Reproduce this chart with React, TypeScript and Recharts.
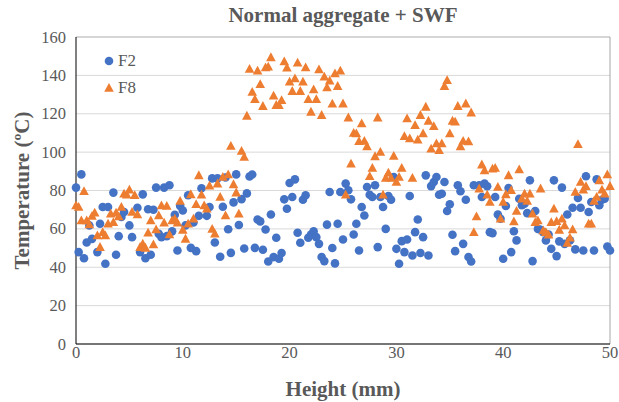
import { ScatterChart, Scatter, XAxis, YAxis, CartesianGrid, ReferenceLine } from 'recharts';

// F2 readings: height (mm) / temperature (ºC)
const f2Height = [
  0, 0.25, 0.5, 0.75, 1, 1.25, 1.5, 2, 2.25, 2.5, 2.75, 3, 3.5, 3.75, 4, 4.25, 4.5, 5, 5.25, 5.75,
  6, 6.25, 6.5, 6.75, 7, 7.25, 7.5, 7.75, 8, 8.25, 8.5, 8.75, 9, 9.25, 9.5, 9.75, 10, 10.25, 10.5, 10.75,
  11, 11.25, 11.5, 11.75, 12.25, 12.5, 12.75, 13, 13.25, 13.5, 13.75, 14, 14.25, 14.5, 14.75, 15, 15.25, 15.5, 15.75, 16,
  16.25, 16.5, 16.75, 17, 17.25, 17.5, 17.75, 18, 18.25, 18.5, 18.75, 19, 19.25, 19.5, 19.75, 20, 20.25, 20.5, 20.75, 21,
  21.25, 21.5, 21.75, 22, 22.25, 22.5, 22.75, 23, 23.25, 23.5, 23.75, 24, 24.25, 24.5, 24.75, 25, 25.25, 25.5, 25.75, 26,
  26.25, 26.5, 26.75, 27, 27.25, 27.5, 27.75, 28, 28.25, 28.5, 28.75, 29, 29.25, 29.5, 29.75, 30, 30.25, 30.5, 30.75, 31,
  31.25, 31.5, 31.75, 32, 32.25, 32.5, 32.75, 33, 33.25, 33.5, 33.75, 34, 34.25, 34.5, 34.75, 35, 35.25, 35.5, 35.75, 36,
  36.25, 36.5, 36.75, 37, 37.25, 37.75, 38, 38.25, 38.5, 38.75, 39, 39.25, 39.5, 39.75, 40, 40.25, 40.5, 40.75, 41, 41.25,
  41.5, 41.75, 42, 42.25, 42.5, 42.75, 43, 43.25, 43.5, 43.75, 44, 44.25, 44.5, 44.75, 45, 45.25, 45.5, 45.75, 46, 46.25,
  46.5, 46.75, 47, 47.25, 47.5, 47.75, 48, 48.25, 48.5, 48.75, 49, 49.25, 49.5, 49.75, 50,
];
const f2Temp = [
  81.5, 47.9, 88.4, 44.7, 52.9, 61.8, 54.8, 47.9, 62.7, 71.4, 41.8, 71.4, 78.9, 46.5, 56.2, 66.2, 68.8, 61.8, 55.7, 71,
  47.9, 78, 44.7, 70.2, 46.5, 70, 81.5, 57.4, 55.7, 81.5, 56.2, 82.7, 58.7, 67.4, 48.7, 72, 69.6, 61.8, 77.5, 50.1,
  63.3, 48.4, 66.8, 81.2, 66.8, 71.4, 86.3, 52.9, 86.3, 45.5, 71.5, 86.8, 59.8, 47.5, 73.8, 88.4, 62, 75.5, 49.8, 78.5,
  87.3, 88.3, 50.1, 64.9, 63.9, 49.1, 59.7, 43, 67.5, 45.3, 55.4, 44.4, 47.4, 75.4, 70.5, 83.9, 76.6, 85.8, 58, 52.8,
  75.2, 77.5, 55.4, 57, 58.7, 55.7, 52.2, 45.3, 43.2, 62.2, 79.2, 50, 42, 62.7, 79.2, 54.5, 83.6, 80.1, 75.4, 57.1,
  62.7, 48.7, 71.4, 67, 81.8, 77.8, 76.6, 82.7, 50.5, 76.6, 71.4, 60, 77.1, 75.2, 87, 49.6, 41.8, 53.6, 47.9, 54.5,
  77.1, 46.1, 58.3, 64.9, 47.4, 55.7, 87.9, 46.1, 82.3, 84.4, 87, 77.8, 78.3, 84.4, 69.3, 72.8, 56.9, 48.4, 82.7, 79.6,
  52.2, 75.2, 45.3, 43, 82.7, 82.7, 76.6, 83.6, 82.2, 58.3, 57.8, 76.6, 67.5, 65.3, 44.4, 71.9, 81.3, 47.9, 58.8, 54,
  75.7, 72.3, 73.1, 68.2, 85.3, 43.2, 69.3, 60, 59.5, 58.3, 54, 57.1, 49.6, 85.3, 45.8, 53.5, 81.5, 52.2, 67.5, 54,
  71, 49.3, 76.1, 71, 48.7, 87.4, 68.8, 74, 48.7, 85.8, 72.3, 75.2, 75.7, 50.8, 48.7,
];

// F8 readings: height (mm) / temperature (ºC)
const f8Height = [
  0, 0.25, 0.5, 0.75, 1, 1.25, 1.5, 1.75, 2, 2.25, 2.5, 2.75, 3, 3.25, 3.5, 3.75, 4, 4.25, 4.5, 4.75,
  5, 5.25, 5.5, 5.75, 6, 6.25, 6.5, 6.75, 7, 7.25, 7.5, 7.75, 8, 8.25, 8.5, 8.75, 9, 9.25, 9.5, 9.75,
  10, 10.25, 10.5, 10.75, 11, 11.25, 11.5, 11.75, 12, 12.25, 12.5, 12.75, 13, 13.25, 13.5, 13.75, 14, 14.25, 14.5, 14.75,
  15, 15.25, 15.5, 15.75, 16, 16.25, 16.5, 16.75, 17, 17.25, 17.5, 17.75, 18, 18.25, 18.5, 18.75, 19, 19.25, 19.5, 19.75,
  20, 20.25, 20.5, 20.75, 21, 21.25, 21.5, 21.75, 22, 22.25, 22.5, 22.75, 23, 23.25, 23.5, 23.75, 24, 24.25, 24.5, 24.75,
  25, 25.25, 25.5, 25.75, 26, 26.25, 26.5, 26.75, 27, 27.25, 27.5, 27.75, 28, 28.25, 28.5, 28.75, 29, 29.25, 29.5, 29.75,
  30, 30.25, 30.5, 30.75, 31, 31.25, 31.5, 31.75, 32, 32.25, 32.5, 32.75, 33, 33.25, 33.5, 33.75, 34, 34.25, 34.5, 34.75,
  35, 35.25, 35.5, 35.75, 36, 36.25, 36.5, 36.75, 37, 37.25, 37.5, 37.75, 38, 38.25, 38.5, 38.75, 39, 39.25, 39.5, 39.75,
  40, 40.25, 40.5, 40.75, 41, 41.25, 41.5, 41.75, 42, 42.25, 42.5, 42.75, 43, 43.25, 43.5, 43.75, 44, 44.25, 44.5, 44.75,
  45, 45.25, 45.5, 45.75, 46, 46.25, 46.5, 46.75, 47, 47.25, 47.5, 47.75, 48, 48.25, 48.5, 48.75, 49, 49.25, 49.5, 49.75,
  50,
];
const f8Temp = [
  72.2, 71.4, 64.4, 79.6, 64.4, 62.3, 66.7, 68.4, 56.6, 50.5, 58.3, 56.6, 62.7, 67.9, 63.5, 68.4, 66.5, 71.4, 78.3, 77.8,
  80.4, 68.8, 77.5, 67.5, 50.5, 52.2, 50.1, 58, 64.4, 51.9, 59.7, 67, 72.2, 63.2, 71.9, 57.1, 64.4, 65.3, 63.2, 74.5,
  59.5, 54.8, 62.7, 78, 65.3, 72.8, 87.9, 77.8, 72.2, 70.5, 82.5, 60, 57.5, 83.6, 76.6, 87, 67, 88.4, 103.2, 83.2,
  78.9, 67.9, 100.6, 97.5, 118.9, 143.3, 131.4, 127.6, 142.4, 135.4, 124, 144.1, 144.5, 149.4, 129.4, 124.5, 124.5, 127.1, 147.2, 144,
  136.7, 131.8, 138.4, 146.6, 131.8, 136.7, 144.1, 127.6, 121, 132.7, 127.6, 143.1, 119.3, 139.3, 133.7, 137.2, 125.2, 141, 134.4, 142.4,
  125.3, 77.8, 118, 94, 110, 109.7, 105.7, 114.9, 105.8, 103, 87.4, 91.7, 97.8, 118, 100.1, 77.8, 86.5, 89.3, 86.5, 98,
  84.4, 87, 91.7, 108.3, 117.5, 107.1, 86.5, 114, 106.5, 119.3, 109.7, 123.6, 116.3, 101.8, 113.5, 104.5, 101, 104.5, 134.4, 137.5,
  109.7, 116.3, 115.8, 124, 103, 105.8, 125.3, 105.5, 120.6, 58.3, 66.5, 81, 93.5, 90.5, 77.8, 74, 91.4, 91.7, 81.8, 65.3,
  74, 78, 87.9, 80.1, 63.9, 69.3, 91, 75.7, 78.3, 74.5, 78.3, 67.9, 63.5, 64.4, 81, 59.2, 58.3, 56.9, 63.5, 70.5,
  64, 59.5, 65.3, 61.8, 52.6, 55.4, 59.7, 79.2, 104.1, 84.4, 80.4, 82.2, 62.7, 62.7, 74.5, 76.6, 85.3, 80.4, 78.3, 88.4,
  82.3,
];

const xTicks = [0, 10, 20, 30, 40, 50];
const yTicks = [0, 20, 40, 60, 80, 100, 120, 140, 160];

const BLUE = '#4472C4';
const ORANGE = '#ED7D31';
const TEXT = '#595959';
const FONT = '"Liberation Serif", "Times New Roman", serif';

const f2Data = f2Height.map((h, i) => ({ h, t: f2Temp[i] }));
const f8Data = f8Height.map((h, i) => ({ h, t: f8Temp[i] }));

const Dot = (props: any) => <circle cx={props.cx} cy={props.cy} r={4.3} fill={BLUE} />;
const Tri = (props: any) => {
  const { cx, cy } = props;
  return <polygon points={`${cx},${cy - 5} ${cx + 4.8},${cy + 3.8} ${cx - 4.8},${cy + 3.8}`} fill={ORANGE} />;
};

const XTick = (props: any) => (
  <text x={props.x} y={props.y} dy={14} textAnchor="middle" fontFamily={FONT} fontSize={16.5} fill={TEXT}>
    {props.payload.value}
  </text>
);
const YTick = (props: any) => (
  <text x={props.x} y={props.y} dy={5.5} textAnchor="end" fontFamily={FONT} fontSize={16.5} fill={TEXT}>
    {props.payload.value}
  </text>
);

export default function App() {
  return (
    <div style={{ position: 'relative', width: 619, height: 402, background: '#fff', fontFamily: FONT }}>
      <style>{`body{margin:0}`}</style>
      <div style={{ position: 'absolute', left: 76, width: 534, top: 3, textAlign: 'center', fontSize: 21, fontWeight: 'bold', color: TEXT }}>
        Normal aggregate + SWF
      </div>
      <div style={{ position: 'absolute', left: 103, top: 47, fontFamily: FONT, fontSize: 17, color: TEXT, lineHeight: '27px', zIndex: 2 }}>
        <div style={{ display: 'flex', alignItems: 'center' }}>
          <svg width={12} height={12} style={{ marginRight: 3 }}><circle cx={6} cy={6} r={4.3} fill={BLUE} /></svg>F2
        </div>
        <div style={{ display: 'flex', alignItems: 'center' }}>
          <svg width={12} height={12} style={{ marginRight: 3 }}><polygon points="6,1 10.8,9.8 1.2,9.8" fill={ORANGE} /></svg>F8
        </div>
      </div>
      <ScatterChart width={619} height={402} margin={{ top: 37, right: 9, bottom: 0, left: 0 }}>
        <CartesianGrid horizontal vertical={false} stroke="#D9D9D9" />
        <XAxis
          type="number"
          dataKey="h"
          domain={[0, 50]}
          ticks={xTicks}
          height={58}
          tickLine={false}
          tickSize={0}
          tickMargin={0}
          axisLine={{ stroke: '#000' }}
          tick={<XTick />}
          label={{ value: 'Height (mm)', position: 'insideBottom', offset: 6, style: { fontFamily: FONT, fontSize: 21, fontWeight: 'bold', fill: TEXT } }}
        />
        <YAxis
          type="number"
          dataKey="t"
          domain={[0, 160]}
          ticks={yTicks}
          width={76}
          tickLine={false}
          tickSize={9}
          tickMargin={1}
          axisLine={{ stroke: '#000' }}
          tick={<YTick />}
          label={{ value: 'Temperature (ºC)', angle: -90, position: 'insideLeft', offset: 22, style: { textAnchor: 'middle', fontFamily: FONT, fontSize: 21, fontWeight: 'bold', fill: TEXT } }}
        />
        <ReferenceLine y={160} stroke="#BFBFBF" />
        <ReferenceLine x={50} stroke="#A6A6A6" />
        <Scatter name="F2" data={f2Data} shape={Dot} isAnimationActive={false} />
        <Scatter name="F8" data={f8Data} shape={Tri} isAnimationActive={false} />
      </ScatterChart>
    </div>
  );
}
